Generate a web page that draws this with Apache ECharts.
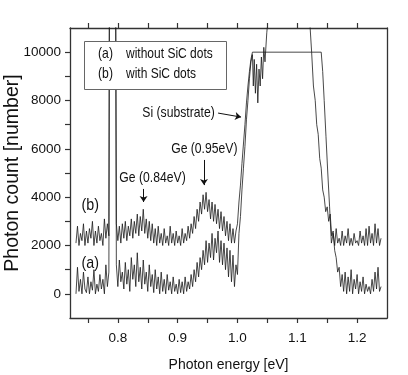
<!DOCTYPE html>
<html><head><meta charset="utf-8">
<script src="https://cdn.jsdelivr.net/npm/echarts@6/dist/echarts.min.js"></script>
<style>html,body{margin:0;padding:0;background:#fff}#c{width:408px;height:375px}</style>
</head><body><div id="c"></div>
<script>
// ---- data ----
const energyA = [
 0.730,0.7325,0.735,0.7375,0.740,0.7425,0.745,0.7475,0.750,0.7525,0.755,0.7575,0.760,0.7625,0.765,0.7675,0.770,0.7725,0.775,0.7775,0.780,0.7825,0.785,
 0.7865,0.7955,
 0.7975,0.800,0.8025,0.805,0.8075,0.810,0.8125,0.815,0.8175,0.820,0.8225,0.825,0.8275,0.830,0.8325,0.835,0.8375,0.840,0.8425,0.845,0.8475,0.850,0.8525,0.855,0.8575,0.860,0.8625,0.865,0.8675,0.870,0.8725,0.875,0.8775,0.880,0.8825,0.885,0.8875,0.890,0.8925,0.895,0.8975,0.900,0.9025,0.905,0.9075,0.910,0.9125,0.915,0.9175,0.920,
 0.9225,0.925,0.9275,0.930,0.9325,0.935,0.9375,0.940,0.9425,0.945,0.9475,0.950,0.9525,0.955,0.9575,0.960,0.9625,0.965,0.9675,0.970,0.9725,0.975,0.9775,0.980,0.9825,0.985,0.9875,0.990,0.9925,0.995,
 0.9975,1.000,1.0025,1.005,1.0075,1.010,1.0125,1.015,1.0175,1.020,1.0225,1.025,1.0265,1.028,1.030,1.032,1.034,1.036,1.038,1.040,1.042,1.044,1.046,1.049,1.052,1.056,
 1.090,1.118,
 1.121,1.124,1.127,1.130,1.1325,1.135,1.1375,1.140,1.1425,1.145,1.1475,1.150,1.1525,1.155,1.1575,1.160,1.1625,1.165,1.1675,1.170,1.1725,1.175,1.1775,
 1.180,1.1825,1.185,1.1875,1.190,1.1925,1.195,1.1975,1.200,1.2025,1.205,1.2075,1.210,1.2125,1.215,1.2175,1.220,1.2225,1.225,1.2275,1.230,1.2325,1.235,1.2375,1.240
];
const countA = [
 0,1100,100,600,0,900,200,50,700,0,500,150,1000,0,400,100,800,200,600,0,1200,300,900,
 20000,20000,
 1200,300,1400,500,900,200,1300,400,1000,100,1500,600,1200,300,1700,500,1100,200,1400,400,900,100,1200,300,800,50,1000,200,700,0,900,100,600,0,800,150,500,0,700,100,400,0,600,50,500,0,700,100,500,200,
 800,300,1000,500,1300,700,1500,1000,1800,1200,2200,1300,2100,1500,2500,1400,2300,1700,2600,1300,2200,1200,2100,1000,1900,700,1800,500,1600,300,
 1200,800,2500,3200,4300,5200,6100,7200,8000,8900,9600,9900,8600,9700,8300,9500,7900,9300,8600,9800,8900,10200,9600,10800,11600,13000,
 14000,14000,
 11200,10000,8600,8000,7000,6600,5600,5200,4300,4000,3400,3600,3000,3300,2400,2600,1800,1500,900,1100,300,800,100,
 900,0,700,100,1000,0,600,200,800,0,500,100,700,0,400,100,300,0,600,100,900,200,1100,100,300
];
const energyB = [
 0.730,0.7325,0.735,0.7375,0.740,0.7425,0.745,0.7475,0.750,0.7525,0.755,0.7575,0.760,0.7625,0.765,0.7675,0.770,0.7725,0.775,0.7775,0.780,0.7825,0.785,
 0.7865,0.7955,
 0.7975,0.800,0.8025,0.805,0.8075,0.810,0.8125,0.815,0.8175,0.820,0.8225,0.825,0.8275,0.830,0.8325,0.835,0.8375,0.840,0.8425,0.845,0.8475,0.850,0.8525,0.855,0.8575,0.860,0.8625,0.865,0.8675,0.870,0.8725,0.875,0.8775,0.880,0.8825,0.885,0.8875,0.890,0.8925,0.895,0.8975,0.900,0.9025,0.905,0.9075,0.910,0.9125,0.915,0.9175,0.920,
 0.9225,0.925,0.9275,0.930,0.9325,0.935,0.9375,0.940,0.9425,0.945,0.9475,0.950,0.9525,0.955,0.9575,0.960,0.9625,0.965,0.9675,0.970,0.9725,0.975,0.9775,0.980,0.9825,0.985,0.9875,0.990,0.9925,0.995,
 0.9975,1.000,1.0025,1.005,1.0075,1.010,1.0125,1.015,1.0175,1.020,1.0225,1.025,
 1.140,1.1425,1.145,1.148,1.151,1.154,1.157,
 1.160,1.1625,1.165,1.1675,1.170,1.1725,1.175,1.1775,1.180,1.1825,1.185,1.1875,1.190,1.1925,1.195,1.1975,1.200,1.2025,1.205,1.2075,1.210,1.2125,1.215,1.2175,1.220,1.2225,1.225,1.2275,1.230,1.2325,1.235,1.2375,1.240
];
const countB = [
 2100,2800,2000,2500,2200,2900,2000,2600,2100,2700,2300,3000,2000,2600,2100,2800,2200,2500,2000,3100,2300,2900,2400,
 20000,20000,
 2900,2200,2800,2100,2900,2300,3000,2200,2800,2400,3100,2300,3000,2500,3300,2400,3200,2600,3500,2500,3100,2300,3000,2200,2900,2100,2700,2000,2800,2100,2500,2000,2700,2100,2400,2000,2800,2100,2500,2000,2600,2100,2400,2000,2700,2100,2500,2200,2800,2300,
 2900,2500,3200,2700,3500,3000,3800,3300,4100,3500,4200,3400,3900,3100,3800,3000,3700,2900,3500,2700,3400,2600,3200,2400,3000,2200,2900,2100,2700,2100,
 2600,2900,3800,4500,5400,6200,7000,7900,8600,9200,9700,10000,
 10000,9200,8000,6500,5000,3600,2100,
 2500,2000,2700,2100,2300,2000,2600,2000,2400,2100,2700,2000,2300,2000,2500,2100,2200,2000,2600,2100,2400,2000,2700,2000,2800,2100,2500,2000,2900,2100,2700,2000,2300
];
const xTickLabels = [0.8, 0.9, 1.0, 1.1, 1.2];
const xTicks = [0.75, 0.8, 0.85, 0.9, 0.95, 1.0, 1.05, 1.1, 1.15, 1.2];
const yTickLabels = [0, 2000, 4000, 6000, 8000, 10000];
const yTicks = [0,1000,2000,3000,4000,5000,6000,7000,8000,9000,10000];
const legendRows = [['(a)', 'without SiC dots'], ['(b)', 'with SiC dots']];
// annotations: text, anchor [energy, count], alignment, size
const notes = [
 {text: '(b)', at: [0.754, 3680], align: 'center', size: 17},
 {text: '(a)', at: [0.754, 1280], align: 'center', size: 17},
 {text: 'Ge (0.84eV)', at: [0.858, 4790], align: 'center', size: 14.5},
 {text: 'Ge (0.95eV)', at: [0.9446, 5990], align: 'center', size: 14.5},
 {text: 'Si (substrate)', at: [0.962, 7480], align: 'right', size: 14.5}
];
const arrows = [
 [[0.843, 4340], [0.843, 3800]],
 [[0.944, 5540], [0.944, 4500]],
 [[0.9676, 7480], [1.006, 7314]]
];

const FONT = "'Liberation Sans', Arial, sans-serif";
const SQ = 0.84; // horizontal squeeze of the reference lettering
const AX = '#333';
const zip = (xs, ys) => xs.map((x, i) => [x, ys[i]]);

const chart = echarts.init(document.getElementById('c'), null, {renderer: 'canvas'});
const axisLineStyle = {color: AX, width: 1.3};
chart.setOption({
  animation: false,
  backgroundColor: '#fff',
  grid: {left: 70, right: 21, top: 28, bottom: 57, containLabel: false, outerBoundsMode: 'none'},
  xAxis: [{
    type: 'value', min: 0.72, max: 1.25, position: 'bottom',
    axisLine: {show: true, onZero: false, lineStyle: axisLineStyle},
    axisTick: {show: true, inside: false, length: 5, customValues: xTicks, lineStyle: {color: AX, width: 1.2}},
    axisLabel: {customValues: xTickLabels, formatter: v => v.toFixed(1), fontSize: 13.5, fontFamily: FONT, color: '#111', margin: 13},
    splitLine: {show: false},
    name: 'Photon energy [eV]', nameLocation: 'middle', nameGap: 40, nameMoveOverlap: false,
    nameTextStyle: {fontSize: 14, fontFamily: FONT, color: '#111'}
  }, {
    type: 'value', min: 0.72, max: 1.25, position: 'top',
    axisLine: {show: true, onZero: false, lineStyle: axisLineStyle},
    axisTick: {show: true, inside: false, length: 5, customValues: xTicks, lineStyle: {color: AX, width: 1.2}},
    axisLabel: {show: false}, splitLine: {show: false}
  }],
  yAxis: [{
    type: 'value', min: -1000, max: 11000, position: 'left',
    axisLine: {show: true, onZero: false, lineStyle: axisLineStyle},
    axisTick: {show: true, inside: false, length: 5, customValues: yTicks, lineStyle: {color: AX, width: 1.2}},
    axisLabel: {customValues: yTickLabels, formatter: v => String(v), fontSize: 13.5, fontFamily: FONT, color: '#111', margin: 9},
    splitLine: {show: false},
    name: 'Photon count [number]', nameLocation: 'middle', nameGap: 47, nameRotate: 90, nameMoveOverlap: false,
    nameTextStyle: {fontSize: 19.5, fontFamily: FONT, color: '#111'}
  }, {
    type: 'value', min: -1000, max: 11000, position: 'right',
    axisLine: {show: true, onZero: false, lineStyle: axisLineStyle},
    axisTick: {show: false}, axisLabel: {show: false}, splitLine: {show: false}
  }],
  series: [{
    name: 'without SiC dots', type: 'line', xAxisIndex: 0, yAxisIndex: 0,
    data: zip(energyA, countA), symbol: 'none', clip: true,
    lineStyle: {color: '#1a1a1a', width: 0.8},
    markLine: {
      silent: true, animation: false, symbol: ['none', 'arrow'], symbolSize: 6,
      label: {show: false}, lineStyle: {color: '#111', width: 1, type: 'solid'},
      emphasis: {disabled: true},
      data: arrows.map(a => [{coord: a[0]}, {coord: a[1]}])
    }
  }, {
    name: 'with SiC dots', type: 'line', xAxisIndex: 0, yAxisIndex: 0,
    data: zip(energyB, countB), symbol: 'none', clip: true,
    lineStyle: {color: '#1a1a1a', width: 0.8}
  }]
});

const px = p => chart.convertToPixel({xAxisIndex: 0, yAxisIndex: 0}, p);
const g = [];
// legend box
g.push({type: 'rect', z: 100, shape: {x: 84.5, y: 41.5, width: 142, height: 48},
  style: {fill: '#fff', stroke: '#666', lineWidth: 1}});
legendRows.forEach((r, i) => {
  g.push({type: 'text', z: 101, x: 105.5, y: 54 + i * 20, scaleX: SQ, style: {text: r[0], font: "14.5px " + FONT, fill: '#111', align: 'center', verticalAlign: 'middle'}});
  g.push({type: 'text', z: 101, x: 126, y: 54 + i * 20, scaleX: SQ, style: {text: r[1], font: "14.3px " + FONT, fill: '#111', align: 'left', verticalAlign: 'middle'}});
});
notes.forEach(n => {
  const p = px(n.at);
  g.push({type: 'text', z: 101, x: p[0], y: p[1], scaleX: SQ, style: {text: n.text, font: n.size + "px " + FONT, fill: '#111', align: n.align, verticalAlign: 'middle'}});
});
chart.setOption({graphic: g});
</script></body></html>
